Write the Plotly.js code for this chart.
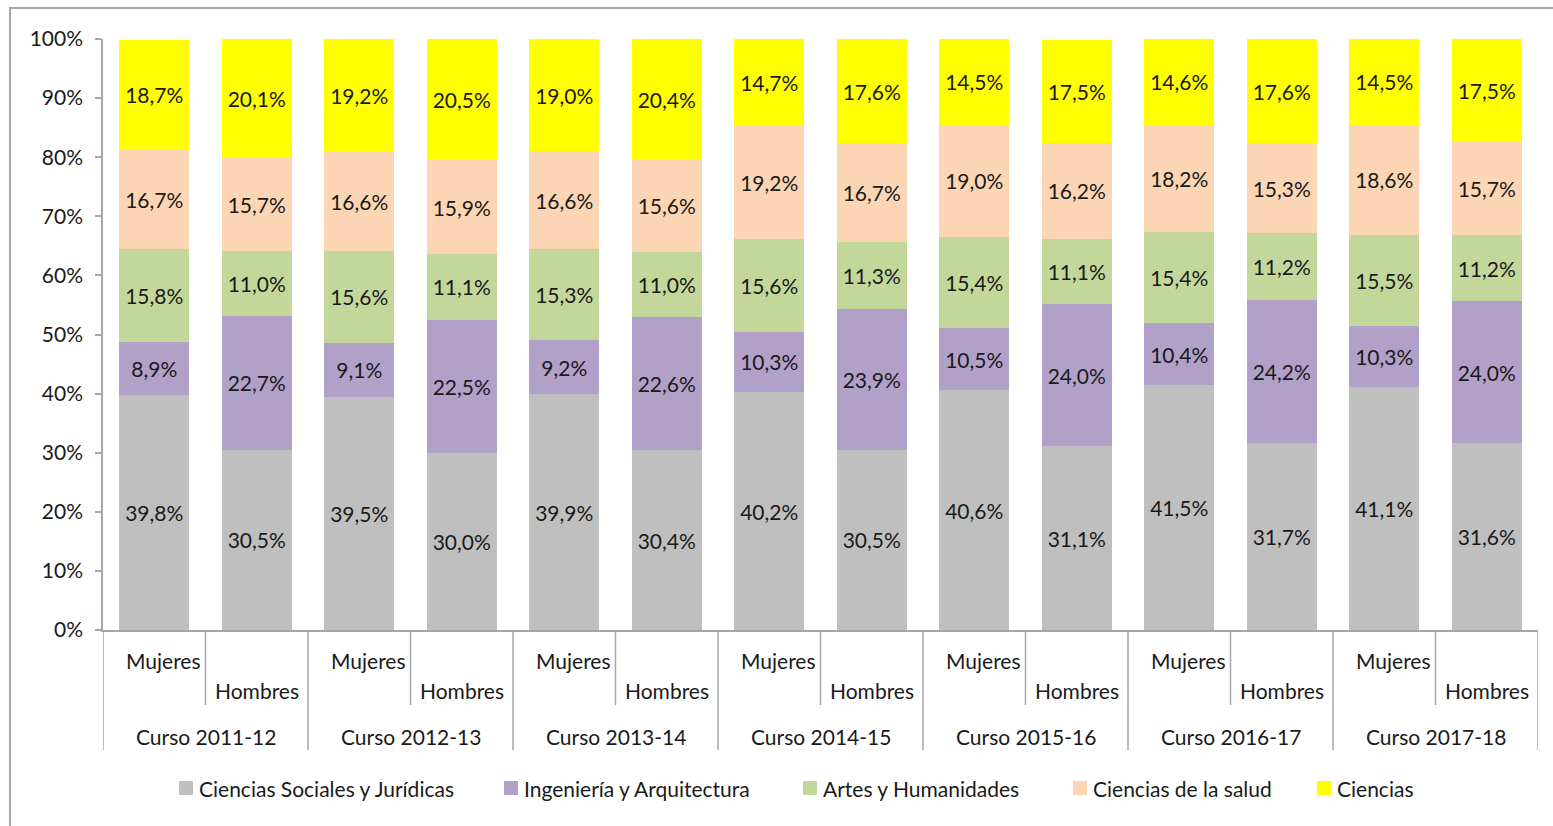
<!DOCTYPE html>
<html>
<head>
<meta charset="utf-8">
<script src="https://cdn.plot.ly/plotly-3.0.1.min.js"></script>
<style>
  html, body { margin: 0; padding: 0; background: #fff; }
  #wrap { position: relative; width: 1553px; height: 826px; overflow: hidden; }
  #chart { position: absolute; left: 0; top: 0; width: 1553px; height: 826px; }
  #frame { position: absolute; left: 9px; top: 7px; width: 1560px; height: 830px;
           border-left: 2px solid #a6a6a6; border-top: 2px solid #a6a6a6; pointer-events: none; }
</style>
</head>
<body>
<div id="wrap"><div id="chart"></div><div id="frame"></div></div>
<script>
const courses = ["Curso 2011-12","Curso 2012-13","Curso 2013-14","Curso 2014-15","Curso 2015-16","Curso 2016-17","Curso 2017-18"];
const sexes = ["Mujeres","Hombres"];
const seriesNames = ["Ciencias Sociales y Jurídicas","Ingeniería y Arquitectura","Artes y Humanidades","Ciencias de la salud","Ciencias"];
const seriesColors = ["#BFBFBF","#B1A0C7","#C4D79B","#FCD5B4","#FFFF00"];
// order per bar: 2011-12 M, 2011-12 H, 2012-13 M, ...
const socialesJuridicas = [39.8,30.5,39.5,30.0,39.9,30.4,40.2,30.5,40.6,31.1,41.5,31.7,41.1,31.6];
const ingenieriaArq    = [8.9,22.7,9.1,22.5,9.2,22.6,10.3,23.9,10.5,24.0,10.4,24.2,10.3,24.0];
const artesHumanidades = [15.8,11.0,15.6,11.1,15.3,11.0,15.6,11.3,15.4,11.1,15.4,11.2,15.5,11.2];
const cienciasSalud    = [16.7,15.7,16.6,15.9,16.6,15.6,19.2,16.7,19.0,16.2,18.2,15.3,18.6,15.7];
const ciencias         = [18.7,20.1,19.2,20.5,19.0,20.4,14.7,17.6,14.5,17.5,14.6,17.6,14.5,17.5];
const yTicks = [0,10,20,30,40,50,60,70,80,90,100];

const allSeries = [socialesJuridicas, ingenieriaArq, artesHumanidades, cienciasSalud, ciencias];
const cats = [];
courses.forEach(c => sexes.forEach(s => cats.push(c + " " + s)));

const FONT = "Lato, 'Open Sans', sans-serif";
const FS = 21;
const TXT = "#1a1a1a";
const fmt = v => v.toFixed(1).replace(".", ",") + "%";

const traces = allSeries.map((vals, i) => ({
  type: "bar",
  name: seriesNames[i],
  x: cats,
  y: vals,
  marker: { color: seriesColors[i], line: { width: 0 } },
  text: vals.map(fmt),
  textposition: "inside",
  insidetextanchor: "middle",
  textangle: 0,
  constraintext: "none",
  textfont: { family: FONT, size: FS, color: TXT },
  hoverinfo: "name+y"
}));

const W = 1553, H = 826;
const margin = { l: 103, r: 15, t: 39, b: 196 };
const plotH = H - margin.t - margin.b;
const plotW = W - margin.l - margin.r;
const py = px => -px / plotH;               // pixels below the x axis -> paper y
const pxX = px => (px - margin.l) / plotW;  // page pixel x -> paper x
const lineColor = "#a6a6a6";

const shapes = [];
const annotations = [];
for (let g = 0; g < courses.length; g++) {
  const left = 2 * g - 0.5;
  shapes.push({ type: "line", xref: "x", yref: "paper", x0: left, x1: left, y0: 0, y1: py(120), line: { color: lineColor, width: 1.5 } });
  shapes.push({ type: "line", xref: "x", yref: "paper", x0: left + 1, x1: left + 1, y0: 0, y1: py(75), line: { color: lineColor, width: 1.5 } });
  annotations.push({ xref: "x", yref: "paper", x: 2 * g + 0.5, y: py(106), text: courses[g], showarrow: false,
    yanchor: "middle", xanchor: "center", font: { family: FONT, size: FS, color: TXT } });
  annotations.push({ xref: "x", yref: "paper", x: 2 * g, y: py(30), xshift: 9, text: sexes[0], showarrow: false,
    yanchor: "middle", xanchor: "center", font: { family: FONT, size: FS, color: TXT } });
  annotations.push({ xref: "x", yref: "paper", x: 2 * g + 1, y: py(60), text: sexes[1], showarrow: false,
    yanchor: "middle", xanchor: "center", font: { family: FONT, size: FS, color: TXT } });
}
const last = 2 * courses.length - 0.5;
shapes.push({ type: "line", xref: "x", yref: "paper", x0: last, x1: last, y0: 0, y1: py(120), line: { color: lineColor, width: 1.5 } });

// Legend drawn manually to match the spacing of the original
const legendStarts = [179, 504, 803, 1073, 1317];
const legendY = 158; // px below axis
const sq = 14;
seriesNames.forEach((name, i) => {
  const x0 = legendStarts[i];
  shapes.push({ type: "rect", xref: "paper", yref: "paper", x0: pxX(x0), x1: pxX(x0 + sq),
    y0: py(legendY - sq / 2), y1: py(legendY + sq / 2), fillcolor: seriesColors[i], line: { width: 0 } });
  annotations.push({ xref: "paper", yref: "paper", x: pxX(x0 + sq + 4), y: py(legendY), text: name, showarrow: false,
    xanchor: "left", yanchor: "middle", font: { family: FONT, size: FS, color: TXT } });
});

const layout = {
  width: W, height: H, margin,
  barmode: "stack",
  bargap: 0.32,
  paper_bgcolor: "#fff", plot_bgcolor: "#fff",
  font: { family: FONT, size: FS, color: TXT },
  showlegend: false,
  xaxis: { type: "category", range: [-0.5, cats.length - 0.5], showticklabels: false, ticks: "",
    showline: true, linecolor: lineColor, linewidth: 1.5, showgrid: false, zeroline: false, fixedrange: true },
  yaxis: { range: [0, 100], tickvals: yTicks, ticktext: yTicks.map(v => v + "%"), ticks: "outside", ticklen: 6,
    tickcolor: lineColor, tickwidth: 1.5, showline: true, linecolor: lineColor, linewidth: 1.5,
    showgrid: false, zeroline: false, ticklabelstandoff: 8, tickfont: { family: FONT, size: FS, color: TXT }, fixedrange: true },
  shapes, annotations
};

Plotly.newPlot("chart", traces, layout, { displayModeBar: false });
</script>
</body>
</html>
